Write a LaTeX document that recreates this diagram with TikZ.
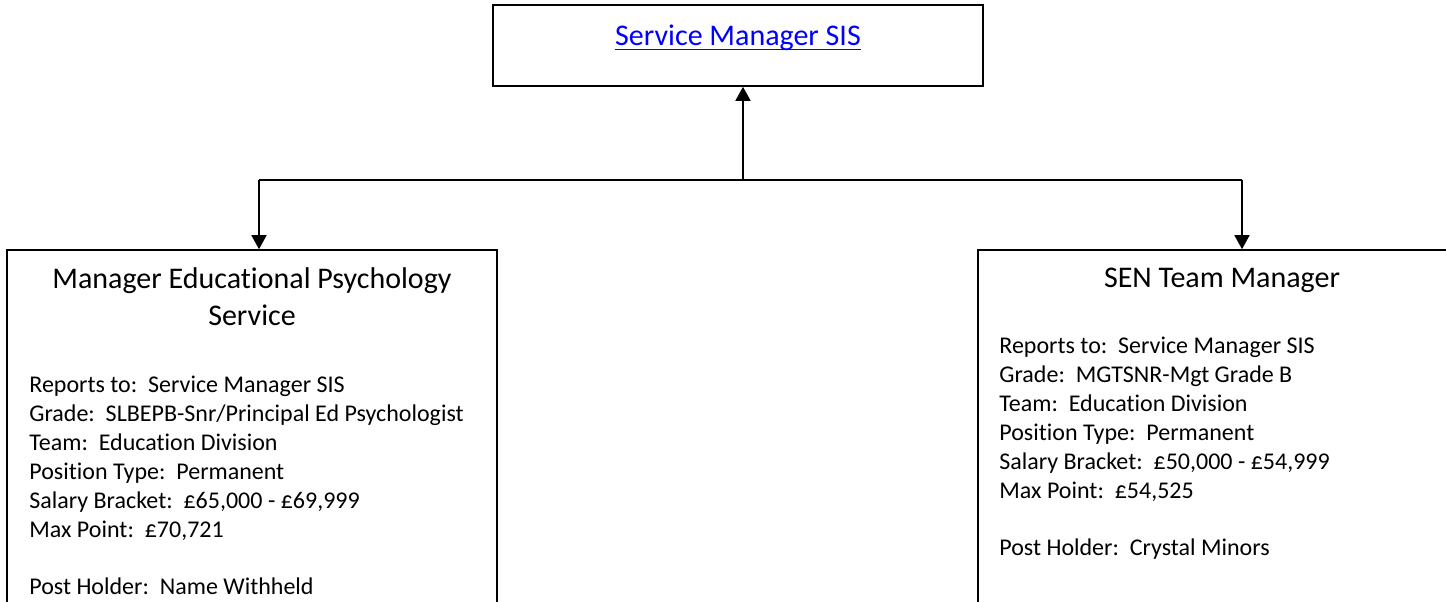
\documentclass[tikz,border=0pt]{standalone}
\usepackage{fontspec}
\setmainfont{Carlito}[Ligatures=NoCommon]
\usepackage{tikz}
\usetikzlibrary{arrows.meta, positioning}

\begin{document}
\begin{tikzpicture}[
    x=0.5pt, y=-0.5pt,
    box/.style={rectangle, draw=black, line width=0.8pt, inner sep=0pt},
    title/.style={font=\fontsize{15}{18.3}\selectfont, align=center, inner sep=0pt},
    info/.style={font=\fontsize{12}{14.5}\selectfont, align=left, inner sep=0pt},
    arrow/.style={-{Triangle[length=7pt, width=7.5pt]}, line width=0.8pt, black}
]
\useasboundingbox (0,0) rectangle (1446,601);

% boxes
\node[box, minimum width=245pt, minimum height=40.5pt] (sm) at (738,45.5) {};
\node[box, minimum width=245pt, minimum height=225pt] (eps) at (252,475) {};
\node[box, minimum width=244pt, minimum height=225pt] (sen) at (1222,475) {};

% top post
\node[title, anchor=base, text=blue] (smname) at (738,45) {Service Manager SIS};
\draw[blue, line width=0.6pt] ([yshift=-2.2pt]smname.base west) -- ([yshift=-2.2pt]smname.base east);

% left post
\node[title, anchor=base] (epstitle) at (252,325) {Manager Educational Psychology\\Service};
\node[info, anchor=north west] (epsinfo) at (29,376) {Reports to:\ \ Service Manager SIS\\
Grade:\ \ SLBEPB-Snr/Principal Ed Psychologist\\
Team:\ \ Education Division\\
Position Type:\ \ Permanent\\
Salary Bracket:\ \ £65,000 - £69,999\\
Max Point:\ \ £70,721\\[14pt]
Post Holder:\ \ Name Withheld};

% right post
\node[title, anchor=base] (sentitle) at (1222,287) {SEN Team Manager};
\node[info, anchor=north west] (seninfo) at (999,337) {Reports to:\ \ Service Manager SIS\\
Grade:\ \ MGTSNR-Mgt Grade B\\
Team:\ \ Education Division\\
Position Type:\ \ Permanent\\
Salary Bracket:\ \ £50,000 - £54,999\\
Max Point:\ \ £54,525\\[14pt]
Post Holder:\ \ Crystal Minors};

% connectors
\coordinate (split) at (743,180);
\coordinate (jl) at (259,180);
\coordinate (jr) at (1242,180);
\draw[arrow] (split) -- (split |- sm.south);
\draw[line width=0.8pt] (jl) -- (jr);
\draw[arrow] (jl) -- (jl |- eps.north);
\draw[arrow] (jr) -- (jr |- sen.north);

\end{tikzpicture}
\end{document}
